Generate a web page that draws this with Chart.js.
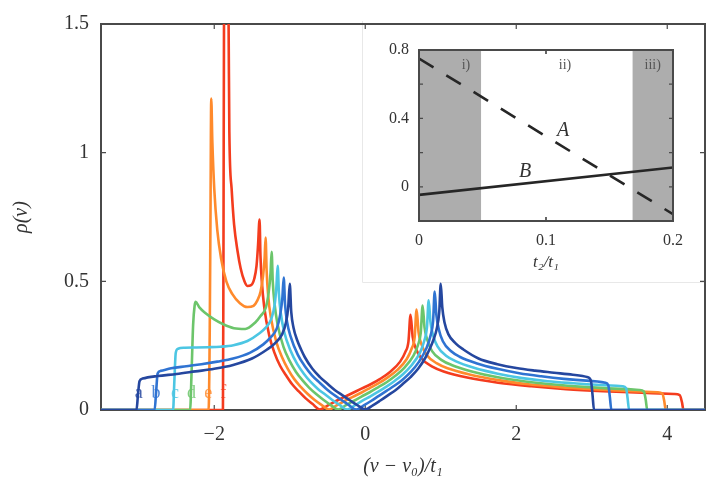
<!DOCTYPE html>
<html lang="en">
<head>
<meta charset="UTF-8">
<title>Density of states</title>
<script src="https://cdn.jsdelivr.net/npm/chart.js"></script>
<style>
  body { margin: 0; background: #fff; }
  .wrap { position: relative; width: 717px; height: 485px; }
  #inset { position: absolute; left: 362px; top: 21px; z-index: 0; background: #fff; }
  #main { position: absolute; left: 0; top: 0; z-index: 1; }
</style>
</head>
<body>
<div class="wrap">
  <canvas id="inset" width="342" height="262"></canvas>
  <canvas id="main" width="717" height="485"></canvas>
</div>
<script>
// main plot: rho(nu) for six values of t2/t1
const curveA = [[-3.5,0],[-3.03,0],[-3.01,0.06],[-2.99,0.112],[-2.95,0.122],[-2.75,0.132],[-2.5,0.14],[-2.25,0.15],[-2.0,0.16],[-1.75,0.175],[-1.5,0.2],[-1.3,0.235],[-1.2,0.258],[-1.1,0.295],[-1.05,0.34],[-1.02,0.4],[-1.0,0.49],[-0.98,0.38],[-0.95,0.32],[-0.9,0.27],[-0.85,0.235],[-0.8,0.205],[-0.7,0.16],[-0.6,0.128],[-0.5,0.102],[-0.4,0.077],[-0.3,0.057],[-0.2,0.037],[-0.1,0.018],[0,0.002],[0.1,0.018],[0.2,0.037],[0.3,0.057],[0.4,0.077],[0.5,0.102],[0.6,0.128],[0.7,0.16],[0.8,0.205],[0.85,0.235],[0.9,0.27],[0.95,0.32],[0.98,0.38],[1.0,0.49],[1.02,0.4],[1.05,0.34],[1.1,0.295],[1.2,0.258],[1.3,0.235],[1.5,0.2],[1.75,0.178],[2.0,0.163],[2.25,0.153],[2.5,0.145],[2.75,0.137],[2.95,0.127],[2.99,0.112],[3.01,0.06],[3.03,0],[4.5,0]];
const curveB = [[-3.5,0],[-2.79,0],[-2.77,0.07],[-2.75,0.142],[-2.71,0.152],[-2.57,0.162],[-2.37,0.17],[-2.17,0.178],[-1.96,0.188],[-1.75,0.2],[-1.53,0.222],[-1.35,0.255],[-1.26,0.28],[-1.17,0.318],[-1.126,0.371],[-1.098,0.435],[-1.08,0.515],[-1.062,0.41],[-1.034,0.34],[-0.988,0.285],[-0.894,0.215],[-0.8,0.17],[-0.706,0.135],[-0.6,0.105],[-0.514,0.082],[-0.42,0.06],[-0.318,0.04],[-0.22,0.02],[-0.12,0.002],[-0.02,0.018],[0.082,0.036],[0.18,0.055],[0.286,0.075],[0.39,0.095],[0.494,0.118],[0.6,0.147],[0.706,0.185],[0.81,0.24],[0.866,0.29],[0.898,0.343],[0.92,0.46],[0.942,0.37],[0.974,0.314],[1.028,0.267],[1.138,0.228],[1.25,0.207],[1.47,0.182],[1.75,0.16],[2.04,0.143],[2.33,0.131],[2.63,0.121],[2.93,0.114],[3.18,0.106],[3.22,0.095],[3.24,0.05],[3.26,0],[4.5,0]];
const curveC = [[-3.5,0],[-2.545,0],[-2.53,0.1],[-2.51,0.222],[-2.48,0.238],[-2.39,0.242],[-2.24,0.243],[-2.09,0.244],[-1.92,0.246],[-1.745,0.252],[-1.56,0.268],[-1.405,0.297],[-1.325,0.318],[-1.243,0.355],[-1.2,0.409],[-1.177,0.478],[-1.16,0.56],[-1.143,0.45],[-1.118,0.375],[-1.075,0.305],[-0.989,0.23],[-0.9,0.178],[-0.811,0.14],[-0.72,0.108],[-0.627,0.082],[-0.53,0.06],[-0.437,0.039],[-0.34,0.02],[-0.24,0.002],[-0.14,0.018],[-0.037,0.036],[0.068,0.053],[0.173,0.071],[0.28,0.091],[0.389,0.113],[0.5,0.139],[0.611,0.173],[0.725,0.223],[0.782,0.269],[0.817,0.32],[0.84,0.426],[0.863,0.344],[0.898,0.291],[0.957,0.247],[1.075,0.21],[1.195,0.19],[1.44,0.164],[1.755,0.141],[2.08,0.124],[2.415,0.112],[2.76,0.104],[3.115,0.097],[3.41,0.092],[3.455,0.085],[3.475,0.045],[3.495,0],[4.5,0]];
const curveD = [[-3.5,0],[-2.32,0],[-2.3,0.15],[-2.28,0.33],[-2.26,0.405],[-2.245,0.42],[-2.2,0.4],[-2.11,0.375],[-2.0,0.352],[-1.88,0.333],[-1.74,0.318],[-1.59,0.315],[-1.457,0.34],[-1.387,0.365],[-1.315,0.4],[-1.278,0.46],[-1.255,0.53],[-1.24,0.615],[-1.225,0.5],[-1.202,0.415],[-1.163,0.335],[-1.083,0.245],[-1.0,0.19],[-0.917,0.148],[-0.83,0.115],[-0.741,0.086],[-0.65,0.062],[-0.555,0.04],[-0.46,0.02],[-0.36,0.002],[-0.26,0.018],[-0.155,0.035],[-0.05,0.052],[0.059,0.069],[0.17,0.088],[0.283,0.108],[0.399,0.133],[0.517,0.164],[0.637,0.21],[0.698,0.252],[0.735,0.3],[0.76,0.406],[0.785,0.321],[0.822,0.272],[0.885,0.229],[1.013,0.194],[1.143,0.175],[1.41,0.15],[1.757,0.127],[2.12,0.111],[2.5,0.099],[2.89,0.09],[3.3,0.083],[3.63,0.078],[3.69,0.072],[3.715,0.04],[3.735,0],[4.5,0]];
const curveE = [[-3.5,0],[-2.075,0],[-2.06,0.3],[-2.05,0.75],[-2.04,1.21],[-2.025,1.04],[-2.0,0.86],[-1.96,0.7],[-1.91,0.59],[-1.84,0.5],[-1.76,0.45],[-1.66,0.415],[-1.56,0.4],[-1.48,0.405],[-1.43,0.425],[-1.386,0.46],[-1.354,0.52],[-1.333,0.59],[-1.32,0.67],[-1.306,0.54],[-1.286,0.445],[-1.25,0.36],[-1.178,0.265],[-1.102,0.205],[-1.022,0.158],[-0.94,0.12],[-0.854,0.09],[-0.765,0.063],[-0.674,0.04],[-0.58,0.02],[-0.48,0.002],[-0.38,0.018],[-0.274,0.035],[-0.165,0.051],[-0.054,0.067],[0.06,0.085],[0.178,0.104],[0.298,0.127],[0.422,0.155],[0.55,0.198],[0.614,0.238],[0.654,0.282],[0.68,0.39],[0.706,0.302],[0.746,0.254],[0.814,0.214],[0.95,0.181],[1.09,0.162],[1.38,0.138],[1.76,0.116],[2.16,0.1],[2.58,0.089],[3.02,0.081],[3.48,0.074],[3.87,0.069],[3.935,0.064],[3.96,0.035],[3.98,0],[4.5,0]];
const curveF = [[-3.5,0],[-1.885,0],[-1.878,0.6],[-1.87,1.6],[-1.85,1.75],[-1.82,1.7],[-1.81,1.5],[-1.8,1.08],[-1.77,0.86],[-1.737,0.72],[-1.69,0.615],[-1.65,0.55],[-1.6,0.5],[-1.562,0.482],[-1.512,0.485],[-1.47,0.51],[-1.44,0.56],[-1.42,0.64],[-1.4,0.74],[-1.388,0.6],[-1.37,0.5],[-1.338,0.4],[-1.272,0.29],[-1.202,0.222],[-1.128,0.172],[-1.05,0.135],[-0.968,0.1],[-0.88,0.072],[-0.792,0.046],[-0.7,0.024],[-0.6,0.002],[-0.5,0.017],[-0.392,0.034],[-0.28,0.05],[-0.168,0.066],[-0.05,0.083],[0.072,0.1],[0.198,0.121],[0.328,0.148],[0.462,0.188],[0.53,0.225],[0.572,0.266],[0.6,0.37],[0.628,0.284],[0.67,0.239],[0.742,0.201],[0.888,0.169],[1.038,0.15],[1.35,0.126],[1.76,0.106],[2.2,0.092],[2.66,0.081],[3.15,0.073],[3.66,0.067],[4.09,0.062],[4.165,0.058],[4.195,0.03],[4.215,0],[4.5,0]];

const curveTags = ['a', 'b', 'c', 'd', 'e', 'f'];
const tagNu = [-3.0, -2.77, -2.52, -2.3, -2.08, -1.88];
const tagRho = 0.065;
const curveColors = ['#25479f', '#2f73d2', '#4cc6e3', '#6cc56b', '#ff8a2c', '#f43c1e'];

const xTicks = [-2, 0, 2, 4];
const yTicks = [0, 0.5, 1, 1.5];

// inset: phase diagram vs t2/t1
const regionI = [0, 0.049];
const regionIII = [0.168, 0.2];
const lineA = [[0, 0.75], [0.2, -0.16]];
const lineB = [[0, -0.047], [0.2, 0.113]];
const insetXTicks = [0, 0.1, 0.2];
const insetYTicks = [-0.2, 0, 0.2, 0.4, 0.6, 0.8];
const insetYLabelled = [0, 0.4, 0.8];

const SERIF = '"Liberation Serif", "DejaVu Serif", serif';
const INK = '#333';

function fmt(v) {
  return v < 0 ? '\u2212' + Math.abs(v) : String(v);
}

function toXY(pairs) {
  return pairs.map(p => ({ x: p[0], y: p[1] }));
}

// box + inward tick marks
function framePlugin(id, xt, yt, len) {
  return {
    id: id,
    beforeDatasetsDraw(chart) {
      drawFrame(chart, xt, yt, len);
    },
    afterDatasetsDraw(chart, args, opts) {
      if (opts && opts.onTop) drawFrame(chart, xt, yt, len);
    }
  };
}

function drawFrame(chart, xt, yt, len) {
  const { ctx, chartArea: a, scales: { x, y } } = chart;
  ctx.save();
  ctx.strokeStyle = '#4a4a4a';
  ctx.lineWidth = 2;
  ctx.strokeRect(a.left, a.top, a.right - a.left, a.bottom - a.top);
  ctx.lineWidth = 1.2;
  ctx.beginPath();
  xt.forEach(v => {
    const px = x.getPixelForValue(v);
    ctx.moveTo(px, a.bottom); ctx.lineTo(px, a.bottom - len);
    ctx.moveTo(px, a.top); ctx.lineTo(px, a.top + len);
  });
  yt.forEach(v => {
    const py = y.getPixelForValue(v);
    ctx.moveTo(a.left, py); ctx.lineTo(a.left + len, py);
    ctx.moveTo(a.right, py); ctx.lineTo(a.right - len, py);
  });
  ctx.stroke();
  ctx.restore();
}

const mainText = {
  id: 'mainText',
  afterDraw(chart) {
    const { ctx, chartArea: a, scales: { x, y } } = chart;
    ctx.save();
    ctx.textAlign = 'center';
    ctx.textBaseline = 'middle';
    ctx.font = '18px ' + SERIF;
    curveTags.forEach((t, i) => {
      ctx.fillStyle = curveColors[i];
      ctx.globalAlpha = 0.85;
      ctx.fillText(t, x.getPixelForValue(tagNu[i]), y.getPixelForValue(tagRho));
    });
    ctx.globalAlpha = 1;
    ctx.fillStyle = INK;
    ctx.font = 'italic 20px ' + SERIF;
    ctx.fillText('(\u03bd \u2212 \u03bd\u2080)/t\u2081', (a.left + a.right) / 2, 467);
    ctx.translate(22, (a.top + a.bottom) / 2);
    ctx.rotate(-Math.PI / 2);
    ctx.fillText('\u03c1(\u03bd)', 0, 0);
    ctx.restore();
  }
};

new Chart(document.getElementById('main'), {
  type: 'line',
  data: {
    datasets: [curveA, curveB, curveC, curveD, curveE, curveF].map((c, i) => ({
      label: curveTags[i],
      data: toXY(c),
      borderColor: curveColors[i],
      backgroundColor: curveColors[i],
      borderWidth: 2.6,
      pointRadius: 0,
      fill: false,
      cubicInterpolationMode: 'monotone'
    }))
  },
  options: {
    responsive: false,
    animation: false,
    events: [],
    layout: { padding: { top: 20, right: 12, left: 0, bottom: 0 } },
    plugins: { legend: { display: false }, tooltip: { enabled: false } },
    scales: {
      x: {
        type: 'linear', min: -3.5, max: 4.5,
        afterBuildTicks: s => { s.ticks = xTicks.map(v => ({ value: v })); },
        afterFit: s => { s.height = 75; },
        grid: { display: false, drawTicks: false },
        border: { display: false },
        ticks: { color: INK, font: { family: SERIF, size: 20 }, padding: 13, callback: v => fmt(v), maxRotation: 0 }
      },
      y: {
        type: 'linear', min: 0, max: 1.5,
        afterBuildTicks: s => { s.ticks = yTicks.map(v => ({ value: v })); },
        afterFit: s => { s.width = 101; },
        grid: { display: false, drawTicks: false },
        border: { display: false },
        ticks: { color: INK, font: { family: SERIF, size: 20 }, padding: 12, callback: v => fmt(v) }
      }
    }
  },
  plugins: [framePlugin('mainFrame', xTicks, yTicks, 5), mainText]
});

const insetText = {
  id: 'insetText',
  afterDraw(chart) {
    const { ctx, chartArea: a, scales: { x, y } } = chart;
    ctx.save();
    ctx.textAlign = 'center';
    ctx.textBaseline = 'middle';
    ctx.font = '14px ' + SERIF;
    ctx.fillStyle = '#555';
    ctx.fillText('i)', x.getPixelForValue(0.037), y.getPixelForValue(0.71));
    ctx.fillText('ii)', x.getPixelForValue(0.115), y.getPixelForValue(0.71));
    ctx.fillText('iii)', x.getPixelForValue(0.184), y.getPixelForValue(0.71));
    ctx.fillStyle = INK;
    ctx.font = 'italic 20px ' + SERIF;
    ctx.fillText('A', x.getPixelForValue(0.1135), y.getPixelForValue(0.326));
    ctx.fillText('B', x.getPixelForValue(0.0835), y.getPixelForValue(0.089));
    ctx.font = 'italic 17px ' + SERIF;
    ctx.fillText('t\u2082/t\u2081', (a.left + a.right) / 2, 242);
    ctx.restore();
    // faint outline of the inset figure box
    ctx.save();
    ctx.strokeStyle = '#e8e8e8';
    ctx.lineWidth = 1;
    ctx.beginPath();
    ctx.moveTo(0.5, 0); ctx.lineTo(0.5, chart.height - 0.5); ctx.lineTo(chart.width, chart.height - 0.5);
    ctx.stroke();
    ctx.restore();
  }
};

new Chart(document.getElementById('inset'), {
  type: 'line',
  data: {
    datasets: [
      { data: toXY(lineA), borderColor: '#262626', borderWidth: 2.6, borderDash: [17, 15], pointRadius: 0, fill: false, order: 1 },
      { data: toXY(lineB), borderColor: '#262626', borderWidth: 2.6, pointRadius: 0, fill: false, order: 1 },
      { data: regionI.map(v => ({ x: v, y: 0.8 })), borderWidth: 0, pointRadius: 0, backgroundColor: '#adadad', fill: 'start', order: 2 },
      { data: regionIII.map(v => ({ x: v, y: 0.8 })), borderWidth: 0, pointRadius: 0, backgroundColor: '#adadad', fill: 'start', order: 2 }
    ]
  },
  options: {
    responsive: false,
    animation: false,
    events: [],
    layout: { padding: { top: 29, right: 31, left: 0, bottom: 0 } },
    plugins: { legend: { display: false }, tooltip: { enabled: false }, insetFrame: { onTop: true } },
    scales: {
      x: {
        type: 'linear', min: 0, max: 0.2,
        afterBuildTicks: s => { s.ticks = insetXTicks.map(v => ({ value: v })); },
        afterFit: s => { s.height = 62; },
        grid: { display: false, drawTicks: false },
        border: { display: false },
        ticks: { color: INK, font: { family: SERIF, size: 16 }, padding: 10, callback: v => String(v), maxRotation: 0 }
      },
      y: {
        type: 'linear', min: -0.2, max: 0.8,
        afterBuildTicks: s => { s.ticks = insetYTicks.map(v => ({ value: v })); },
        afterFit: s => { s.width = 57; },
        grid: { display: false, drawTicks: false },
        border: { display: false },
        ticks: { color: INK, font: { family: SERIF, size: 16 }, padding: 10,
          callback: v => insetYLabelled.some(t => Math.abs(t - v) < 1e-9) ? String(v) : '' }
      }
    }
  },
  plugins: [framePlugin('insetFrame', insetXTicks, insetYTicks, 4), insetText]
});
</script>
</body>
</html>
